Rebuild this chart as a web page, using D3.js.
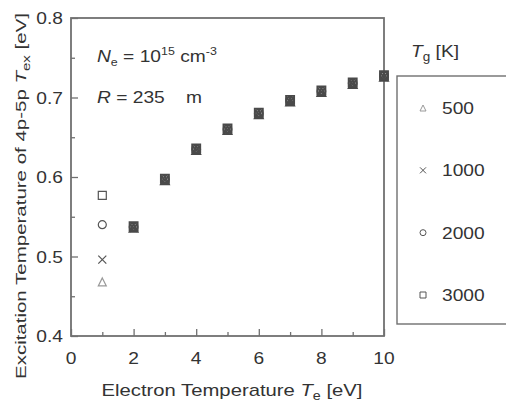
<!DOCTYPE html>
<html>
<head>
<meta charset="utf-8">
<script src="https://cdn.jsdelivr.net/npm/d3@7"></script>
<style>
  body { margin: 0; background: #fff; }
  svg text { font-family: "Liberation Sans", Arial, sans-serif; fill: #333; }
</style>
</head>
<body>
<div id="chart"></div>
<script>
// electron temperature Te [eV]
var te = [1, 2, 3, 4, 5, 6, 7, 8, 9, 10];
// gas temperatures Tg [K] (legend order)
var tgLabels = ["500", "1000", "2000", "3000"];
var tgShapes = ["triangle", "x", "circle", "square"];
// excitation temperature Tex [eV] for each Tg
var tex500  = [0.468, 0.536, 0.596, 0.634, 0.659, 0.679, 0.695, 0.707, 0.717, 0.726];
var tex1000 = [0.496, 0.536, 0.596, 0.634, 0.659, 0.679, 0.695, 0.707, 0.717, 0.726];
var tex2000 = [0.540, 0.537, 0.597, 0.635, 0.660, 0.680, 0.696, 0.708, 0.718, 0.727];
var tex3000 = [0.577, 0.538, 0.598, 0.636, 0.661, 0.681, 0.697, 0.709, 0.719, 0.728];
var xTicks = [0, 2, 4, 6, 8, 10];
var yTicks = [0.4, 0.5, 0.6, 0.7, 0.8];

var W = 506, H = 403;
var margin = {left: 71, top: 18, right: 122, bottom: 67};

var svg = d3.select("#chart").append("svg").attr("width", W).attr("height", H);

var x = d3.scaleLinear().domain([0, 10]).range([margin.left, W - margin.right]);
var y = d3.scaleLinear().domain([0.4, 0.8]).range([H - margin.bottom, margin.top]);

var grey = "#707070";
var sx = 1.13; // text in the original is a little wide

// ticks (inside), major and minor
function inside(g) {
  g.select(".domain").remove();
  g.selectAll("line").attr("stroke", grey).attr("stroke-width", 1.3);
}
svg.append("g").attr("transform", "translate(0," + y(0.4) + ")")
  .call(d3.axisBottom(x).tickValues(d3.range(1, 10, 2)).tickSize(-4).tickFormat("")).call(inside);
svg.append("g").attr("transform", "translate(0," + y(0.4) + ")")
  .call(d3.axisBottom(x).tickValues(xTicks).tickSize(-7).tickFormat("")).call(inside);
svg.append("g").attr("transform", "translate(" + x(0) + ",0)")
  .call(d3.axisLeft(y).tickValues([0.45, 0.55, 0.65, 0.75]).tickSize(-4).tickFormat("")).call(inside);
svg.append("g").attr("transform", "translate(" + x(0) + ",0)")
  .call(d3.axisLeft(y).tickValues(yTicks).tickSize(-7).tickFormat("")).call(inside);

// frame
svg.append("rect")
  .attr("x", x(0)).attr("y", y(0.8))
  .attr("width", x(10) - x(0)).attr("height", y(0.4) - y(0.8))
  .attr("fill", "none").attr("stroke", grey).attr("stroke-width", 1.8);

svg.selectAll(".xlab").data(xTicks).enter().append("text")
  .attr("transform", function(d){ return "translate(" + x(d) + "," + (y(0.4) + 28) + ") scale(" + sx + ",1)"; })
  .attr("text-anchor", "middle").attr("font-size", 17)
  .text(function(d){ return d; });

svg.selectAll(".ylab").data(yTicks).enter().append("text")
  .attr("transform", function(d){ return "translate(" + (x(0) - 8) + "," + (y(d) + 6) + ") scale(" + sx + ",1)"; })
  .attr("text-anchor", "end").attr("font-size", 17)
  .text(function(d){ return d.toFixed(1); });

// axis titles
var xt = svg.append("text").attr("x", 232).attr("y", 396)
  .attr("text-anchor", "middle").attr("font-size", 17)
  .attr("textLength", 261).attr("lengthAdjust", "spacingAndGlyphs");
xt.append("tspan").text("Electron Temperature ");
xt.append("tspan").attr("font-style", "italic").text("T");
xt.append("tspan").attr("font-size", 12).attr("dy", 4).text("e");
xt.append("tspan").attr("dy", -4).text(" [eV]");

var yt = svg.append("text").attr("transform", "translate(26,196) rotate(-90)")
  .attr("text-anchor", "middle").attr("font-size", 15)
  .attr("textLength", 366).attr("lengthAdjust", "spacingAndGlyphs");
yt.append("tspan").text("Excitation Temperature of 4p-5p ");
yt.append("tspan").attr("font-style", "italic").text("T");
yt.append("tspan").attr("font-size", 11).attr("dy", 4).text("ex");
yt.append("tspan").attr("dy", -4).text(" [eV]");

// annotations
var n1 = svg.append("text").attr("transform", "translate(97,62) scale(" + sx + ",1)").attr("font-size", 17);
n1.append("tspan").attr("font-style", "italic").text("N");
n1.append("tspan").attr("font-size", 11).attr("dy", 4).text("e");
n1.append("tspan").attr("dy", -4).text(" = 10");
n1.append("tspan").attr("font-size", 11).attr("dy", -7).text("15");
n1.append("tspan").attr("dy", 7).text(" cm");
n1.append("tspan").attr("font-size", 11).attr("dy", -7).text("-3");

var n2 = svg.append("text").attr("transform", "translate(97,103) scale(" + sx + ",1)").attr("font-size", 17);
n2.append("tspan").attr("font-style", "italic").text("R");
n2.append("tspan").text(" = 235\u00a0\u00a0\u00a0 m");

// marker paths
function shapePath(kind, s) {
  var h = s / 2;
  if (kind === "square") return "M" + (-h) + "," + (-h) + "h" + s + "v" + s + "h" + (-s) + "Z";
  if (kind === "circle") return "M" + h + ",0A" + h + "," + h + " 0 1,1 " + (-h) + ",0A" + h + "," + h + " 0 1,1 " + h + ",0Z";
  if (kind === "triangle") return "M0," + (-h) + "L" + h + "," + h + "L" + (-h) + "," + h + "Z";
  return "M" + (-h) + "," + (-h) + "L" + h + "," + h + "M" + (-h) + "," + h + "L" + h + "," + (-h);
}

var series = [tex500, tex1000, tex2000, tex3000];
var markColor = ["#999", "#555", "#555", "#555"];
series.forEach(function(vals, k){
  svg.append("g").selectAll("path").data(te.map(function(t, i){ return [t, vals[i]]; }))
    .enter().append("path")
    .attr("transform", function(d){ return "translate(" + x(d[0]) + "," + y(d[1]) + ")"; })
    .attr("d", function(d){ return shapePath(tgShapes[k], 8); })
    .attr("fill", "none").attr("stroke", function(d){ return d[0] === 1 ? markColor[k] : "#4a4a4a"; })
    .attr("stroke-width", function(d){ return d[0] === 1 ? 1.2 : 1.9; });
});

// legend
var lt = svg.append("text").attr("transform", "translate(411,57) scale(" + sx + ",1)").attr("font-size", 17);
lt.append("tspan").attr("font-style", "italic").text("T");
lt.append("tspan").attr("font-size", 12).attr("dy", 4).text("g");
lt.append("tspan").attr("dy", -4).text(" [K]");

svg.append("rect").attr("x", 397).attr("y", 76).attr("width", 120).attr("height", 248)
  .attr("fill", "none").attr("stroke", grey).attr("stroke-width", 1.4);

var legY = d3.scalePoint().domain(tgLabels).range([108, 295]);
var leg = svg.selectAll(".leg").data(tgLabels).enter().append("g")
  .attr("transform", function(d){ return "translate(423," + legY(d) + ")"; });
leg.append("path").attr("d", function(d, i){ return shapePath(tgShapes[i], 6); })
  .attr("fill", "none").attr("stroke", function(d, i){ return markColor[i]; }).attr("stroke-width", 1);
leg.append("text").attr("transform", "translate(19,6) scale(" + sx + ",1)").attr("font-size", 17)
  .text(function(d){ return d; });
</script>
</body>
</html>
